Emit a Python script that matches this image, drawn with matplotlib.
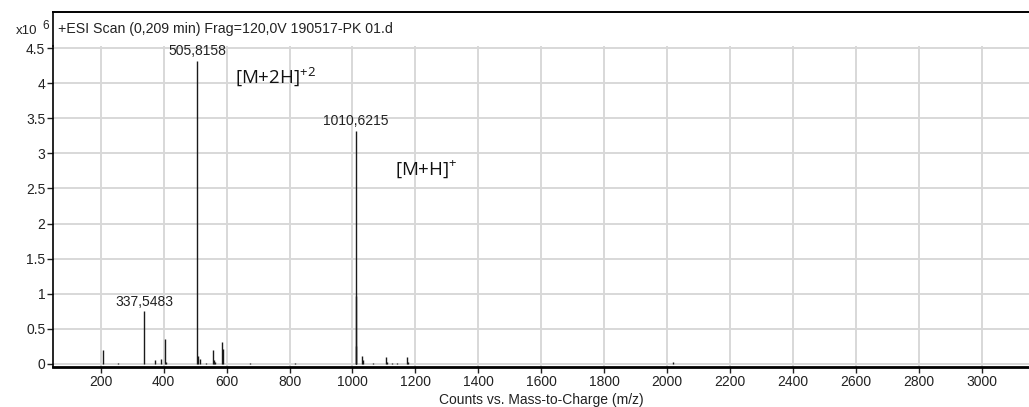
import matplotlib
matplotlib.use("Agg")
import matplotlib.pyplot as plt
from matplotlib.lines import Line2D

# ---- data ----
mz = [208.1, 253.9, 337.5483, 372.5, 391.6, 404.3, 407.5, 505.8158, 509.0, 515.6,
      534.6, 556.0, 559.0, 563.0, 585.5, 589.6, 674.0, 817.6, 1010.6215, 1011.62,
      1012.62, 1030.6, 1035.0, 1066.7, 1106.0, 1110.0, 1125.0, 1141.0, 1174.7, 1177.0,
      2020.2]
intensity = [0.20, 0.01, 0.75, 0.05, 0.067, 0.35, 0.03, 4.32, 0.12, 0.07,
             0.02, 0.20, 0.05, 0.03, 0.31, 0.22, 0.02, 0.01, 3.32, 0.97,
             0.25, 0.12, 0.06, 0.01, 0.10, 0.03, 0.015, 0.015, 0.10, 0.03,
             0.03]
peak_labels = [(337.5483, 0.75, "337,5483"), (505.8158, 4.32, "505,8158"),
               (1010.6215, 3.32, "1010,6215")]
ions = [(627, 4.09, "[M+2H]$^{\\mathregular{+2}}$"), (1136, 2.77, "[M+H]$^{\\mathregular{+}}$")]
xticks = list(range(200, 3001, 200))
yticks = [0, 0.5, 1, 1.5, 2, 2.5, 3, 3.5, 4, 4.5]
ytick_labels = ["0", "0.5", "1", "1.5", "2", "2.5", "3", "3.5", "4", "4.5"]
title = "+ESI Scan (0,209 min) Frag=120,0V 190517-PK 01.d"
xlabel = "Counts vs. Mass-to-Charge (m/z)"

W, H = 1029, 407
plt.rcParams['font.family'] = ['Liberation Sans', 'DejaVu Sans']
fig = plt.figure(figsize=(W / 100, H / 100), dpi=100)

def fx(px):
    return px / W

def fy(py):
    return 1 - py / H

ax = fig.add_axes([fx(53), fy(367), fx(1029) - fx(53), fy(46) - fy(367)])
ax.set_xlim(48, 3151)
ax.set_ylim(-0.043, 4.53)

ax.vlines(mz, 0, intensity, color="#1a1a1a", lw=1.0, zorder=3)

for x, y, t in peak_labels:
    ax.annotate(t, (x, y), xytext=(0, 2), textcoords="offset points",
                ha="center", va="bottom", fontsize=10, color="#222222")
for x, y, t in ions:
    ax.text(x, y, t, fontsize=13.5, family=["Open Sans", "DejaVu Sans"],
            va="center", ha="left", color="#111111")

ax.set_xticks(xticks)
ax.set_xticklabels([str(v) for v in xticks])
ax.set_yticks(yticks)
ax.set_yticklabels(ytick_labels)
ax.tick_params(axis="both", direction="out", length=4, width=1, labelsize=10,
               colors="#222222", pad=1.5)
ax.grid(True, color="#d8d8d8", lw=1.4, zorder=0)
ax.set_axisbelow(True)
for s in ["top", "right"]:
    ax.spines[s].set_visible(False)
ax.spines["left"].set_linewidth(1.2)
ax.spines["bottom"].set_linewidth(2.0)
ax.set_xlabel(xlabel, fontsize=10, labelpad=3, color="#222222")

# upper frame (title band)
fig.add_artist(Line2D([fx(53), fx(53)], [fy(12), fy(46)], color="black", lw=1.2))
fig.add_artist(Line2D([fx(53), fx(1029)], [fy(12), fy(12)], color="black", lw=1.4))
fig.text(fx(58), fy(29), title, fontsize=10.2, va="center", ha="left", color="#222222")
fig.text(fx(16), fy(31), "x10", fontsize=9.5, va="center", ha="left", color="#222222")
fig.text(fx(42), fy(26), "6", fontsize=8.5, va="center", ha="left", color="#222222")

fig.savefig("out.png", dpi=100)
